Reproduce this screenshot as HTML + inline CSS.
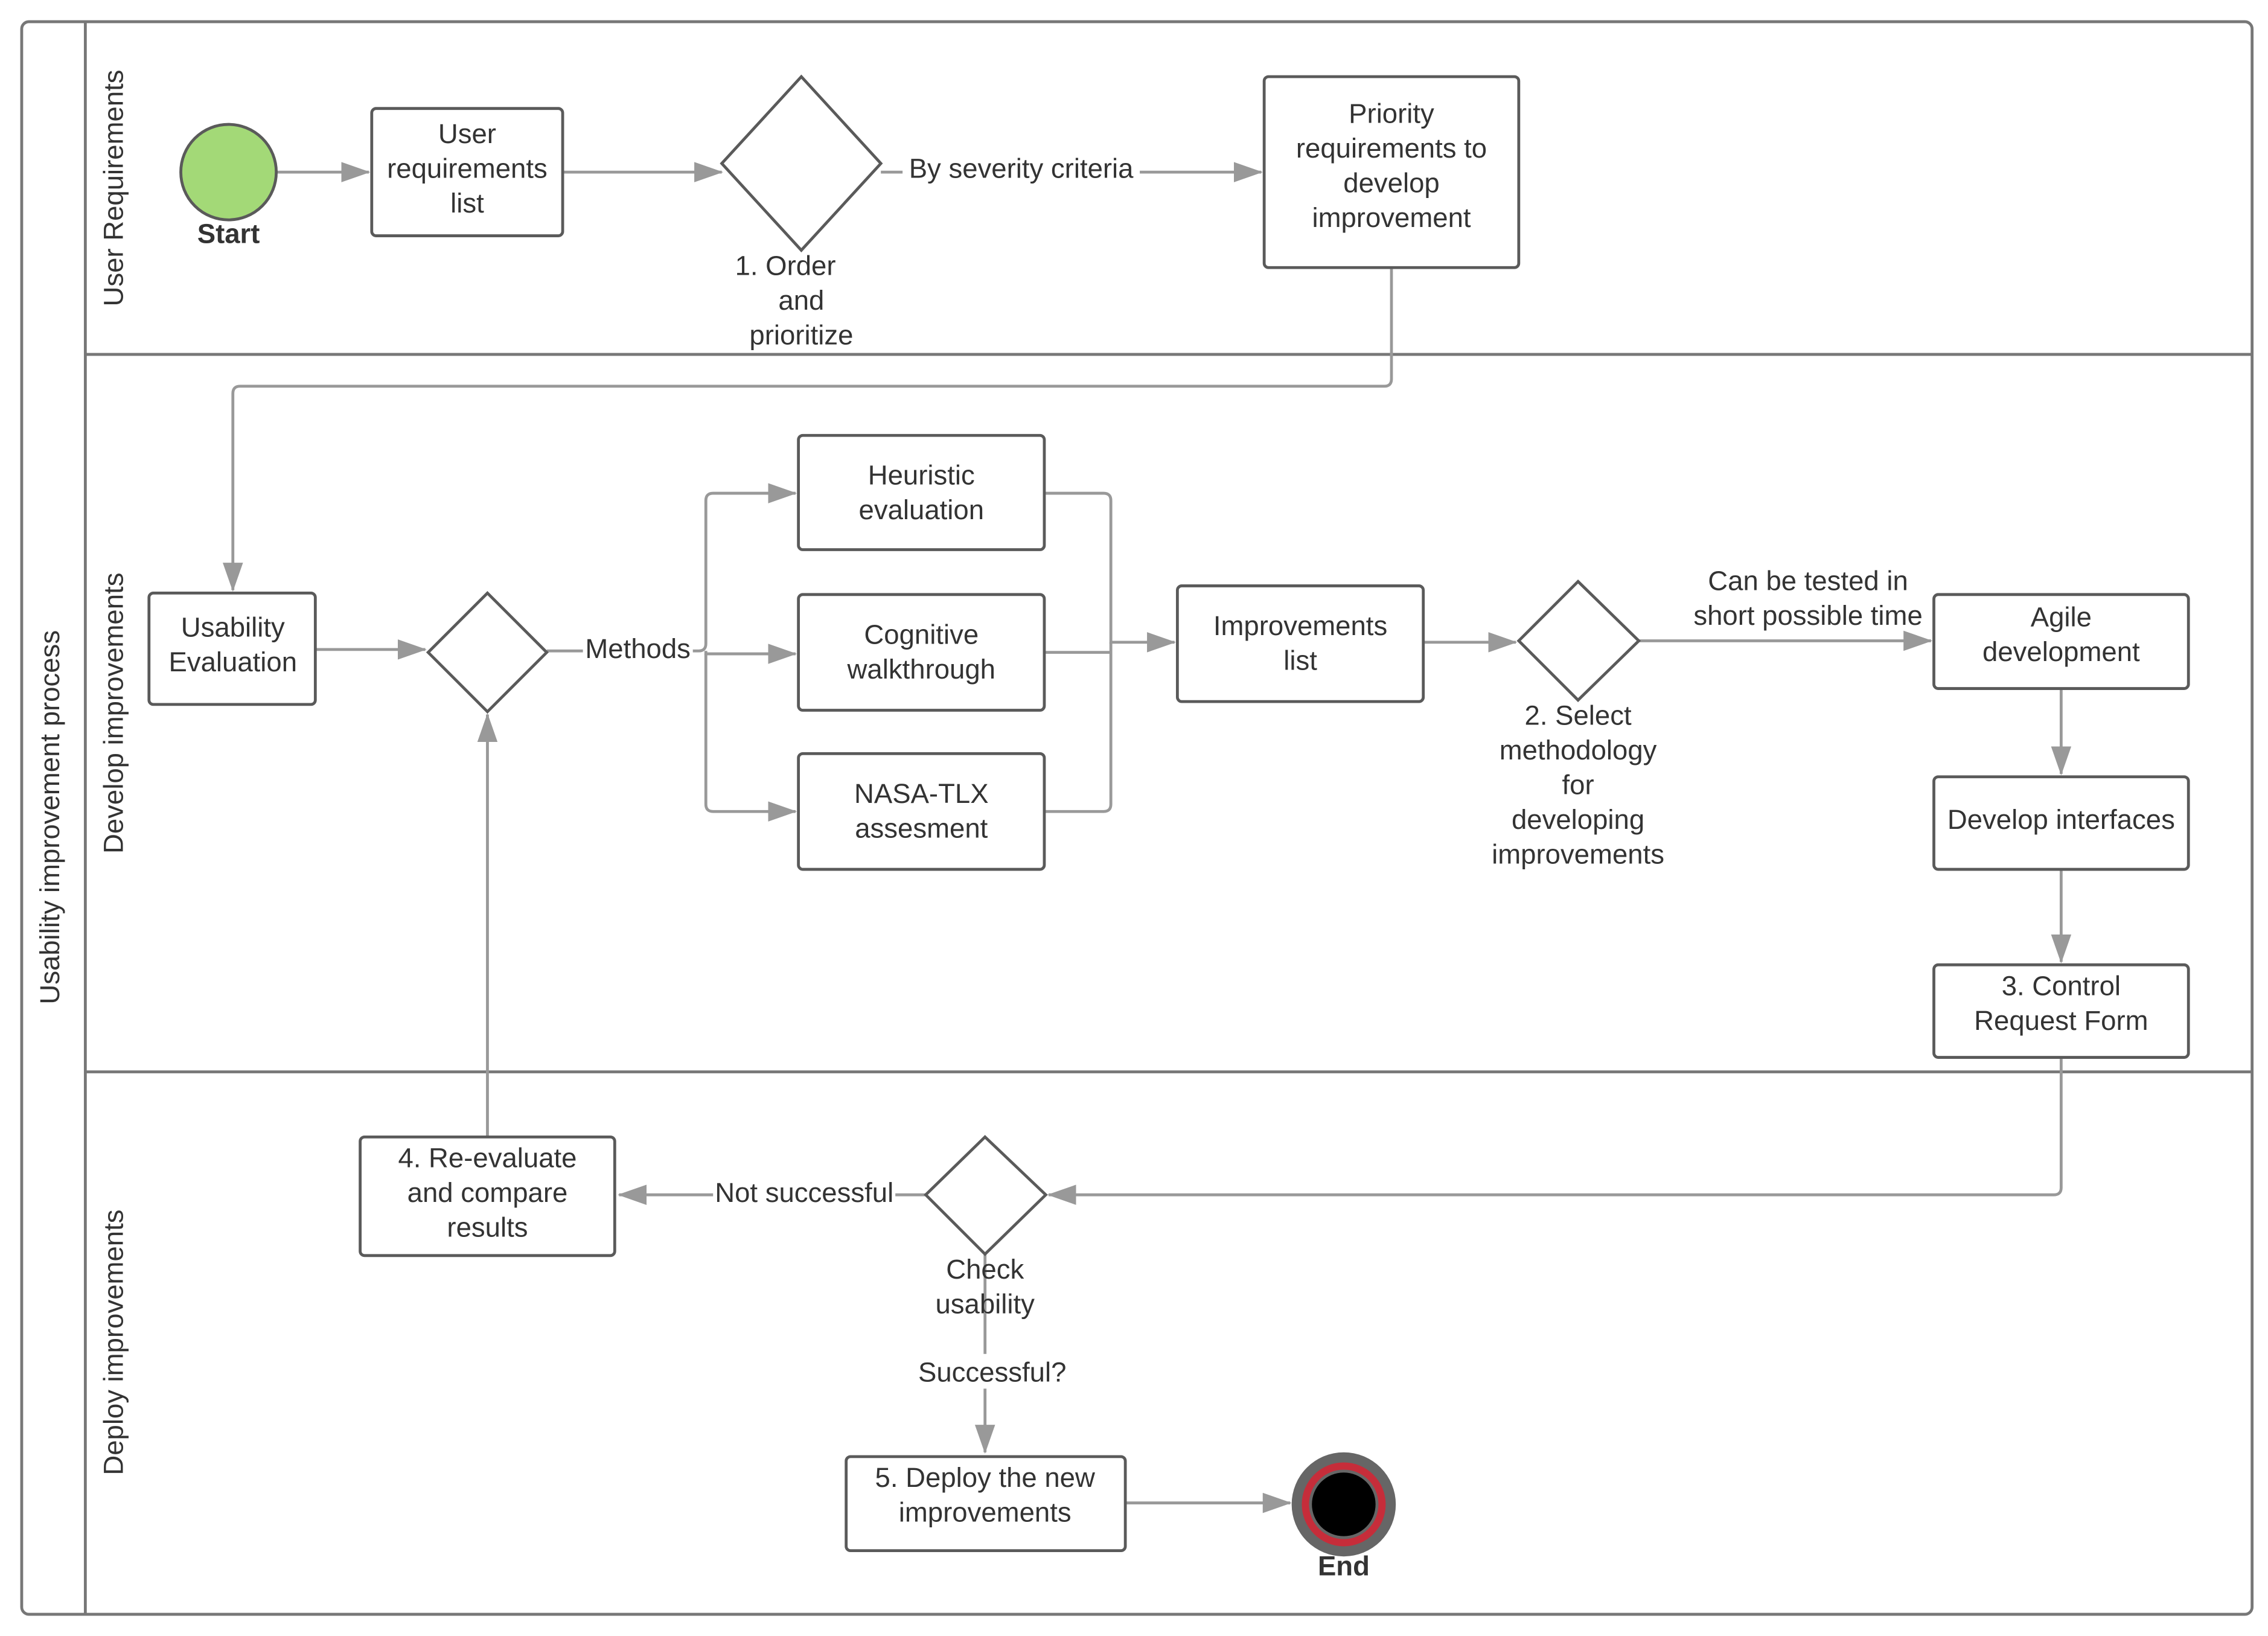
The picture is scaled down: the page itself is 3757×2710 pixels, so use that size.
<!DOCTYPE html>
<html><head><meta charset="utf-8"><style>
html,body{margin:0;padding:0;background:#fff;}
svg{display:block;}
text{font-family:"Liberation Sans",sans-serif;font-size:19px;fill:#333;text-anchor:middle;}
.b{fill:#fff;stroke:#5a5a5a;stroke-width:2;}
.l{fill:none;stroke:#999;stroke-width:2;}
.lab{fill:#fff;stroke:none;}
</style></head><body>
<svg width="3757" height="2710" viewBox="0 0 1568 1131" preserveAspectRatio="none" xmlns="http://www.w3.org/2000/svg">
<defs>
<marker id="ar" markerWidth="20" markerHeight="14" refX="19" refY="7" orient="auto" markerUnits="userSpaceOnUse"><path d="M0,0 L20,7 L0,14 Z" fill="#999"/></marker></defs>
<rect x="15" y="15" width="1542" height="1101" rx="5" fill="#fff" stroke="#777" stroke-width="2"/>
<line x1="59" y1="15" x2="59" y2="1116" stroke="#777" stroke-width="2"/>
<line x1="59" y1="245" x2="1557" y2="245" stroke="#777" stroke-width="2"/>
<line x1="59" y1="741" x2="1557" y2="741" stroke="#777" stroke-width="2"/>
<text transform="translate(41,565) rotate(-90)">Usability improvement process</text>
<text transform="translate(85,130) rotate(-90)">User Requirements</text>
<text transform="translate(85,493) rotate(-90)">Develop improvements</text>
<text transform="translate(85,928) rotate(-90)">Deploy improvements</text>

<g class="l">
<path d="M722,451 H768"/>
<path d="M722,561 H763 Q768,561 768,556 V444"/>
</g>
<g class="l" marker-end="url(#ar)">
<path d="M191,119 H255"/>
<path d="M389,119 H499"/>
<path d="M609,119 H872"/>
<path d="M962,185 V262 Q962,267 957,267 H166 Q161,267 161,272 V408"/>
<path d="M218,449 H294"/>
<path d="M378,450 H483 Q488,450 488,445 V346 Q488,341 493,341 H550"/>
<path d="M488,450 V452 H550"/>
<path d="M488,452 V556 Q488,561 493,561 H550"/>
<path d="M722,341 H763 Q768,341 768,346 V444 H812"/>
<path d="M984,444 H1048"/>
<path d="M1133,443 H1335"/>
<path d="M1425,476 V535"/>
<path d="M1425,601 V665"/>
<path d="M1425,731 V821 Q1425,826 1420,826 H725"/>
<path d="M640,826 H428"/>
<path d="M337,786 V494"/>
<path d="M681,867 V1004"/>
<path d="M778,1039 H892"/>
</g>

<circle cx="158" cy="119" r="33" fill="#a3d977" stroke="#5a5a5a" stroke-width="2"/>
<text x="158" y="168" style="font-weight:bold">Start</text>
<rect class="b" x="257" y="75" width="132" height="88" rx="3"/>
<text x="323" y="99">User</text><text x="323" y="123">requirements</text><text x="323" y="147">list</text>
<polygon class="b" points="554,53 609,113 554,173 499,113"/>
<text x="543" y="190">1. Order</text><text x="554" y="214">and</text><text x="554" y="238">prioritize</text>
<rect class="lab" x="624" y="104" width="164" height="26"/>
<text x="706" y="123">By severity criteria</text>
<rect class="b" x="874" y="53" width="176" height="132" rx="3"/>
<text x="962" y="85">Priority</text><text x="962" y="109">requirements to</text><text x="962" y="133">develop</text><text x="962" y="157">improvement</text>

<rect class="b" x="103" y="410" width="115" height="77" rx="3"/>
<text x="161" y="440">Usability</text><text x="161" y="464">Evaluation</text>
<polygon class="b" points="337,410 378,451 337,492 296,451"/>
<rect class="lab" x="403" y="438" width="76" height="24"/>
<text x="441" y="455">Methods</text>
<rect class="b" x="552" y="301" width="170" height="79" rx="3"/>
<text x="637" y="335">Heuristic</text><text x="637" y="359">evaluation</text>
<rect class="b" x="552" y="411" width="170" height="80" rx="3"/>
<text x="637" y="445">Cognitive</text><text x="637" y="469">walkthrough</text>
<rect class="b" x="552" y="521" width="170" height="80" rx="3"/>
<text x="637" y="555">NASA-TLX</text><text x="637" y="579">assesment</text>
<rect class="b" x="814" y="405" width="170" height="80" rx="3"/>
<text x="899" y="439">Improvements</text><text x="899" y="463">list</text>
<polygon class="b" points="1091,402 1133,443 1091,484 1050,443"/>
<text x="1091" y="501">2. Select</text><text x="1091" y="525">methodology</text><text x="1091" y="549">for</text><text x="1091" y="573">developing</text><text x="1091" y="597">improvements</text>
<text x="1250" y="408">Can be tested in</text><text x="1250" y="432">short possible time</text>
<rect class="b" x="1337" y="411" width="176" height="65" rx="3"/>
<text x="1425" y="433">Agile</text><text x="1425" y="457">development</text>
<rect class="b" x="1337" y="537" width="176" height="64" rx="3"/>
<text x="1425" y="573">Develop interfaces</text>
<rect class="b" x="1337" y="667" width="176" height="64" rx="3"/>
<text x="1425" y="688">3. Control</text><text x="1425" y="712">Request Form</text>

<polygon class="b" points="681,786 723,826 681,867 640,826"/>
<text x="681" y="884">Check</text><text x="681" y="908">usability</text>
<rect class="lab" x="493" y="812" width="126" height="24"/>
<text x="556" y="831">Not successful</text>
<rect class="b" x="249" y="786" width="176" height="82" rx="3"/>
<text x="337" y="807">4. Re-evaluate</text><text x="337" y="831">and compare</text><text x="337" y="855">results</text>
<rect class="lab" x="632" y="936" width="110" height="24"/>
<text x="686" y="955">Successful?</text>
<rect class="b" x="585" y="1007" width="193" height="65" rx="3"/>
<text x="681" y="1028">5. Deploy the new</text><text x="681" y="1052">improvements</text>
<circle cx="929" cy="1040" r="36" fill="#666"/>
<circle cx="929" cy="1040" r="29" fill="#c62d3a"/>
<circle cx="929" cy="1040" r="24" fill="#666"/>
<circle cx="929" cy="1040" r="22" fill="#000"/>
<text x="929" y="1089" style="font-weight:bold">End</text>
</svg>
</body></html>
